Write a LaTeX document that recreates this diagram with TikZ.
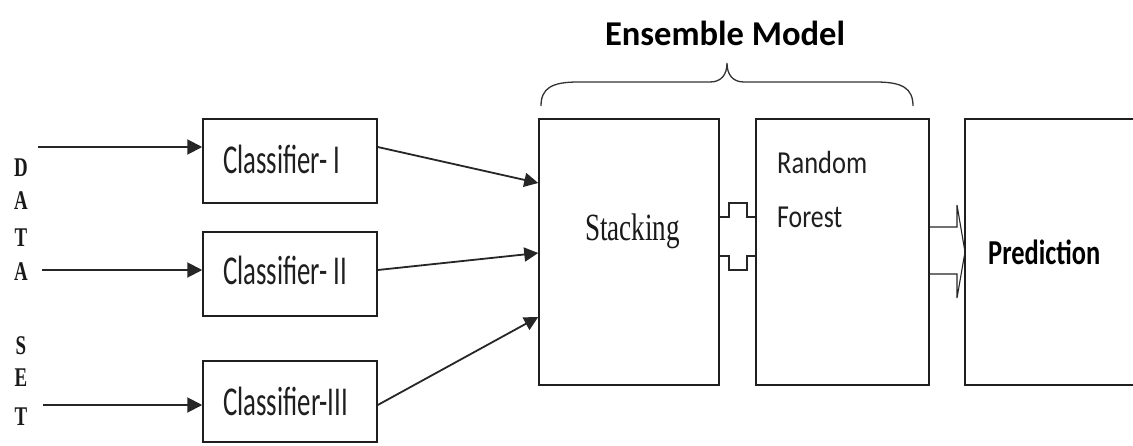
\documentclass[tikz,border=0pt]{standalone}
\usepackage{fontspec}
\setmainfont{Carlito}
\newfontfamily\serifface{Liberation Serif}
\usetikzlibrary{arrows.meta,calc}
% squeeze a text horizontally to a given width, keeping its height
\newcommand\fitw[2]{\resizebox{#1}{\height}{#2}}

\begin{document}
\begin{tikzpicture}[x=1pt,y=-1pt,
  box/.style={draw=black!88, line width=1.5pt, inner sep=0pt, fill=white},
  feed/.style={draw=black!85, line width=2pt, -{Triangle[length=15pt,width=15pt]}},
  merge/.style={draw=black!85, line width=1.8pt, -{Triangle[length=14pt,width=14pt]}},
  link/.style={draw=black!85, line width=1.3pt, line join=miter},
  lbl/.style={inner sep=0pt, text=black!88, anchor=base west},
  letter/.style={inner sep=0pt, anchor=base, text=black!90,
    font=\serifface\bfseries\fontsize{27}{27}\selectfont},
]
\useasboundingbox (0,0) rectangle (1133,445);
\fill[white] (0,0) rectangle (1133,445);

% vertical data set label
\node[letter] (l1) at (21,176) {\scalebox{0.7}[1]{D}};
\node[letter] (l2) at (21,209) {\scalebox{0.7}[1]{A}};
\node[letter] (l3) at (21,246) {\scalebox{0.7}[1]{T}};
\node[letter] (l4) at (21,280) {\scalebox{0.7}[1]{A}};
\node[letter] (l5) at (21,354) {\scalebox{0.7}[1]{S}};
\node[letter] (l6) at (21,386) {\scalebox{0.7}[1]{E}};
\node[letter] (l7) at (21,425) {\scalebox{0.7}[1]{T}};

% classifiers
\node[box, minimum width=174pt, minimum height=84pt] (cls1) at (290,161) {};
\node[box, minimum width=174pt, minimum height=84pt] (cls2) at (290,274) {};
\node[box, minimum width=174pt, minimum height=81pt] (cls3) at (290,401.5) {};
\node[lbl] (t1) at (223,173) {\fitw{117pt}{\fontsize{41}{41}\selectfont Classifier- I}};
\node[lbl] (t2) at (223,284) {\fitw{124pt}{\fontsize{41}{41}\selectfont Classifier- II}};
\node[lbl] (t3) at (223,415) {\fitw{125pt}{\fontsize{41}{41}\selectfont Classifier-III}};

% ensemble blocks
\node[box, minimum width=180pt, minimum height=266pt] (stack) at (629,252) {};
\node[box, minimum width=173pt, minimum height=266pt] (forest) at (842.5,252) {};
% output block, open on the right where it leaves the page
\node[inner sep=0pt, outer sep=0pt, minimum width=168pt, minimum height=266pt, anchor=west] (pred) at (965,252) {};
\draw[draw=black!88, line width=1.5pt] (pred.north east) -- (pred.north west)
  -- (pred.south west) -- (pred.south east);

\node[inner sep=0pt, anchor=base, text=black!90] (ts) at (632.5,240)
  {\fitw{95pt}{\serifface\fontsize{38.5}{39}\selectfont Stacking}};
\node[lbl] (tr1) at (777,173) {\fitw{90pt}{\fontsize{32}{32}\selectfont Random}};
\node[lbl] (tr2) at (777,227) {\fitw{65pt}{\fontsize{32}{32}\selectfont Forest}};
\node[lbl, text=black] (tp) at (988,264) {\fitw{112pt}{\bfseries\fontsize{35}{35}\selectfont Prediction}};
\node[inner sep=0pt, anchor=base, text=black] (te) at (725,45)
  {\fitw{240pt}{\bfseries\fontsize{34.8}{35}\selectfont Ensemble Model}};

% data inputs
\coordinate (in1) at (38,147);
\coordinate (in2) at (42,270);
\coordinate (in3) at (43,405);
\draw[feed] (in1) -- ([yshift=14pt]cls1.west);
\draw[feed] (in2) -- ([yshift=4pt]cls2.west);
\draw[feed] (in3) -- ([yshift=-3.5pt]cls3.west);

% classifier outputs into stacking
\draw[merge] ([yshift=14pt]cls1.east) -- ([yshift=69pt]stack.west);
\draw[merge] ([yshift=4pt]cls2.east) -- ([yshift=-1pt]stack.west);
\draw[merge] ([yshift=-3.5pt]cls3.east) -- ([yshift=-65pt]stack.west);

% plus-shaped joint between stacking and random forest
\draw[link] (stack.east |- 0,217) -- (729,217) -- (729,203) -- (747,203) -- (747,217) -- (forest.west |- 0,217);
\draw[link] (stack.east |- 0,256) -- (729,256) -- (729,270) -- (747,270) -- (747,256) -- (forest.west |- 0,256);

% block arrow to prediction
\draw[link, line width=1.1pt] (forest.east |- 0,227) -- (957,227) -- (957,205) -- (pred.west |- 0,252)
  -- (957,298) -- (957,274) -- (forest.east |- 0,274);

% brace over the ensemble
\draw[draw=black!80, line width=1.3pt]
  (541,106) .. controls (541,88) and (552,82) .. (578,82) -- (710,82)
  .. controls (721,82) and (727,75) .. (727,63)
  .. controls (727,75) and (733,82) .. (744,82) -- (876,82)
  .. controls (902,82) and (913,88) .. (913,106);
\end{tikzpicture}
\end{document}
